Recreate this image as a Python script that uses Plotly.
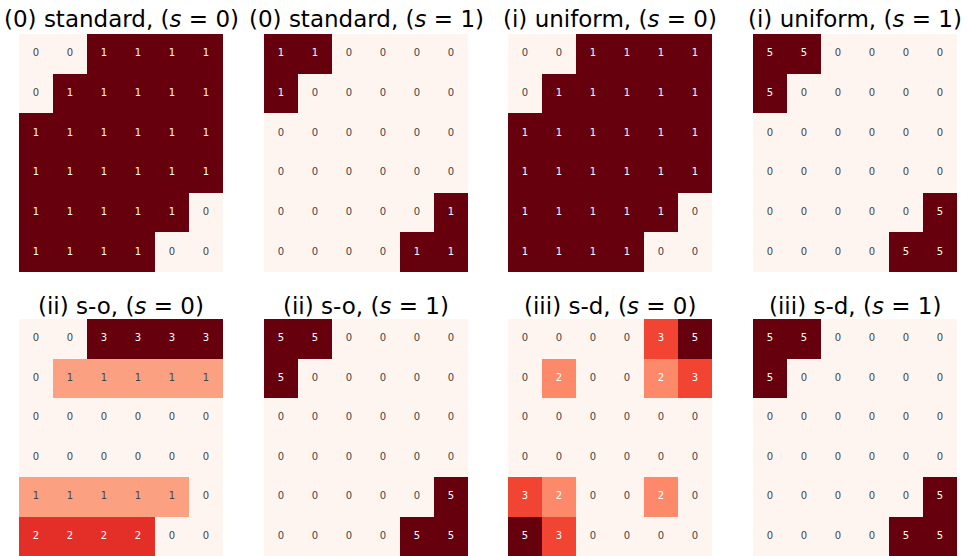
import plotly.graph_objects as go

titles = [
    "(0) standard, (<i>s</i> = 0)", "(0) standard, (<i>s</i> = 1)",
    "(i) uniform, (<i>s</i> = 0)", "(i) uniform, (<i>s</i> = 1)",
    "(ii) s-o, (<i>s</i> = 0)", "(ii) s-o, (<i>s</i> = 1)",
    "(iii) s-d, (<i>s</i> = 0)", "(iii) s-d, (<i>s</i> = 1)",
]

standard_s0 = [[0,0,1,1,1,1],[0,1,1,1,1,1],[1,1,1,1,1,1],[1,1,1,1,1,1],[1,1,1,1,1,0],[1,1,1,1,0,0]]
standard_s1 = [[1,1,0,0,0,0],[1,0,0,0,0,0],[0,0,0,0,0,0],[0,0,0,0,0,0],[0,0,0,0,0,1],[0,0,0,0,1,1]]
uniform_s0 = [[0,0,1,1,1,1],[0,1,1,1,1,1],[1,1,1,1,1,1],[1,1,1,1,1,1],[1,1,1,1,1,0],[1,1,1,1,0,0]]
uniform_s1 = [[5,5,0,0,0,0],[5,0,0,0,0,0],[0,0,0,0,0,0],[0,0,0,0,0,0],[0,0,0,0,0,5],[0,0,0,0,5,5]]
so_s0 = [[0,0,3,3,3,3],[0,1,1,1,1,1],[0,0,0,0,0,0],[0,0,0,0,0,0],[1,1,1,1,1,0],[2,2,2,2,0,0]]
so_s1 = [[5,5,0,0,0,0],[5,0,0,0,0,0],[0,0,0,0,0,0],[0,0,0,0,0,0],[0,0,0,0,0,5],[0,0,0,0,5,5]]
sd_s0 = [[0,0,0,0,3,5],[0,2,0,0,2,3],[0,0,0,0,0,0],[0,0,0,0,0,0],[3,2,0,0,2,0],[5,3,0,0,0,0]]
sd_s1 = [[5,5,0,0,0,0],[5,0,0,0,0,0],[0,0,0,0,0,0],[0,0,0,0,0,0],[0,0,0,0,0,5],[0,0,0,0,5,5]]

panels = [standard_s0, standard_s1, uniform_s0, uniform_s1, so_s0, so_s1, sd_s0, sd_s1]

reds_hex = ["#fff5f0", "#fee0d2", "#fcbba1", "#fc9272", "#fb6a4a",
            "#ef3b2c", "#cb181d", "#a50f15", "#67000d"]
reds_rgb = [tuple(int(h[i:i+2], 16) for i in (1, 3, 5)) for h in reds_hex]
colorscale = [[i / 8, h] for i, h in enumerate(reds_hex)]


def color_at(t):
    t = max(0.0, min(1.0, t))
    p = t * 8
    i = min(int(p), 7)
    f = p - i
    a, b = reds_rgb[i], reds_rgb[i + 1]
    return tuple(a[k] + (b[k] - a[k]) * f for k in range(3))


def lum(rgb):
    def ch(c):
        c = c / 255
        return c / 12.92 if c <= 0.03928 else ((c + 0.055) / 1.055) ** 2.4
    r, g, b = (ch(c) for c in rgb)
    return 0.2126 * r + 0.7152 * g + 0.0722 * b


W, H = 969, 556
x_lefts = [19, 264, 508, 753]
pw = 204
rows_px = [(34, 272), (319, 556)]

fig = go.Figure()
for idx, (z, title) in enumerate(zip(panels, titles)):
    r, c = divmod(idx, 4)
    n = idx + 1
    xa = "x" if n == 1 else f"x{n}"
    ya = "y" if n == 1 else f"y{n}"
    zmax = max(max(row) for row in z)
    fig.add_trace(go.Heatmap(z=z, x=list(range(6)), y=list(range(6)),
                             colorscale=colorscale, zmin=0, zmax=zmax,
                             showscale=False, xaxis=xa, yaxis=ya,
                             hoverinfo="skip"))
    xs, ys, ts, cs = [], [], [], []
    for i, row in enumerate(z):
        for j, v in enumerate(row):
            xs.append(j)
            ys.append(i)
            ts.append(str(v))
            col = color_at(v / zmax if zmax else 0)
            cs.append("#ffffff" if lum(col) < 0.408 else "#444444")
    fig.add_trace(go.Scatter(x=xs, y=ys, text=ts, mode="text",
                             textfont=dict(size=10, color=cs, family="DejaVu Sans"),
                             xaxis=xa, yaxis=ya, showlegend=False, hoverinfo="skip"))
    x0 = x_lefts[c] / W
    x1 = (x_lefts[c] + pw) / W
    top, bot = rows_px[r]
    y0 = 1 - bot / H
    y1 = 1 - top / H
    kx = "xaxis" if n == 1 else f"xaxis{n}"
    ky = "yaxis" if n == 1 else f"yaxis{n}"
    fig.layout[kx] = dict(domain=[x0, x1], range=[-0.5, 5.5], visible=False,
                          anchor=ya, fixedrange=True)
    fig.layout[ky] = dict(domain=[y0, y1], range=[5.5, -0.5], visible=False,
                          anchor=xa, fixedrange=True)
    ty = 19 if r == 0 else 306
    fig.add_annotation(text=title, x=(x0 + x1) / 2, y=1 - ty / H, xref="paper",
                       yref="paper", xanchor="center", yanchor="middle",
                       showarrow=False,
                       font=dict(size=23, color="black", family="DejaVu Sans"))

fig.update_layout(width=W, height=H, margin=dict(l=0, r=0, t=0, b=0),
                  paper_bgcolor="white", plot_bgcolor="white", showlegend=False)
fig.write_html("out.html", config={"displayModeBar": False},
               post_script="document.body.style.margin='0';document.body.style.overflow='hidden';")
